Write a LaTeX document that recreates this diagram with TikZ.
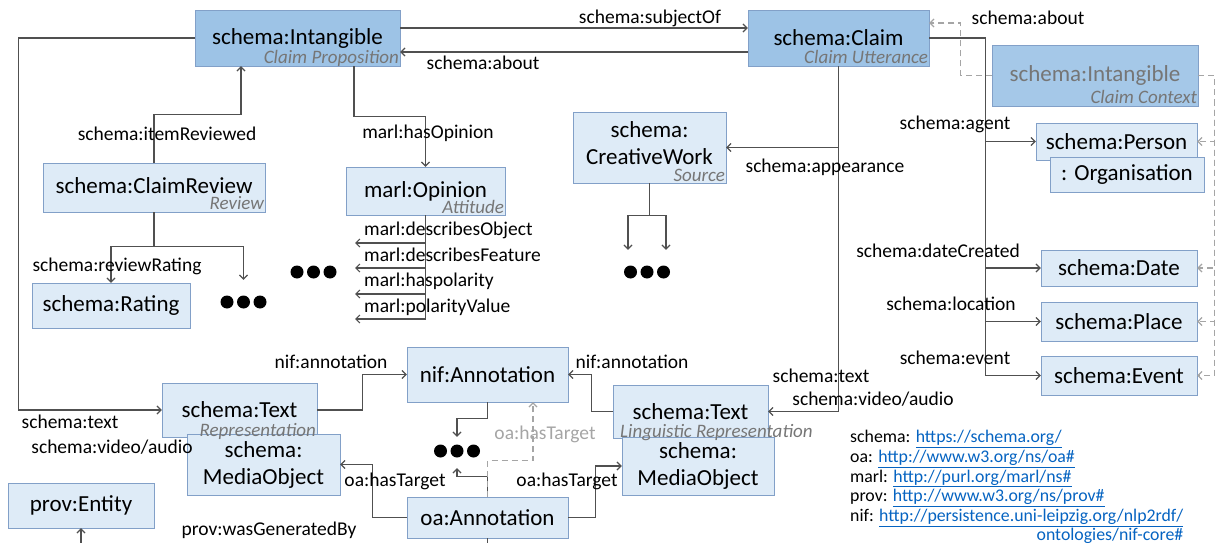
\documentclass[tikz,border=0pt]{standalone}
\usepackage{fontspec}
\setmainfont{Carlito}
\usepackage{xcolor}
\usetikzlibrary{positioning, arrows.meta}

\definecolor{darkfill}{RGB}{157,195,230}
\definecolor{lightfill}{RGB}{222,235,247}
\definecolor{boxline}{RGB}{130,160,200}
\definecolor{linegray}{RGB}{80,80,80}
\definecolor{dashgray}{RGB}{165,165,165}
\definecolor{subgray}{RGB}{118,118,118}
\definecolor{linkblue}{RGB}{5,99,193}

\newcommand{\lnk}[1]{\textcolor{linkblue}{\underline{#1}}}

\tikzset{
  boxsize/.style 2 args={minimum width=#1pt, minimum height=#2pt},
  darkbox/.style={draw=boxline, fill=darkfill, inner sep=0pt, align=center,
    font=\fontsize{23}{27}\selectfont},
  lightbox/.style={draw=boxline, fill=lightfill, inner sep=0pt, align=center,
    font=\fontsize{23}{27}\selectfont},
  subtitle/.style={inner sep=0pt, text=subgray, font=\fontsize{19}{22}\selectfont\itshape},
  lbl/.style={inner sep=0pt, font=\fontsize{19.5}{23}\selectfont},
  link/.style={draw=linegray, line width=1.2pt},
  dlink/.style={draw=dashgray, line width=1.2pt, dash pattern=on 6pt off 4pt},
  dotrow/.style={minimum width=52pt, minimum height=28pt, inner sep=0pt,
    path picture={\foreach \k in {-1,0,1}
      \fill ([xshift=\k*16.5pt]path picture bounding box.center) circle (6.5pt);}},
}

\begin{document}
\begin{tikzpicture}[x=1pt,y=-1pt,>={Straight Barb[length=4pt,width=8pt]}]
  \useasboundingbox (0,0) rectangle (1216,543);

  % boxes
  \node[darkbox, boxsize={205}{56}] (intang) at (297.5,38) {schema:Intangible};
  \node[darkbox, boxsize={181}{56}] (claim) at (838.5,38) {schema:Claim};
  \node[darkbox, boxsize={206}{61}, fill opacity=0.92, text opacity=1, text=subgray] (context) at (1095,75.5) {schema:Intangible};
  \node[lightbox, boxsize={161}{37}] (person) at (1116.5,141.5) {schema:Person};
  \node[lightbox, boxsize={154}{35}] (organ) at (1127,174.5) {: Organisation};
  \node[lightbox, boxsize={222}{49}, text depth=4pt] (review) at (154,187.5) {schema:ClaimReview};
  \node[lightbox, boxsize={159}{48}] (opinion) at (425.5,191) {marl:Opinion};
  \node[lightbox, boxsize={153}{71}, text depth=8pt] (work) at (649.5,147.5) {schema:\\CreativeWork};
  \node[lightbox, boxsize={158}{45}] (rating) at (111,305.5) {schema:Rating};
  \node[lightbox, boxsize={156}{36}] (date) at (1119,268) {schema:Date};
  \node[lightbox, boxsize={156}{39}] (place) at (1119,321.5) {schema:Place};
  \node[lightbox, boxsize={156}{39}] (event) at (1119,375.5) {schema:Event};
  \node[lightbox, boxsize={161}{55}] (nifann) at (487.5,374.5) {nif:Annotation};
  \node[lightbox, boxsize={155}{54}] (textL) at (239.5,410) {schema:Text};
  \node[lightbox, boxsize={153}{61}] (mediaL) at (263.5,464.5) {schema:\\MediaObject};
  \node[lightbox, boxsize={155}{53}] (textR) at (690.5,411.5) {schema:Text};
  \node[lightbox, boxsize={152}{58}] (mediaR) at (698,466) {schema:\\MediaObject};
  \node[lightbox, boxsize={161}{41}] (oaann) at (487.5,517.5) {oa:Annotation};
  \node[lightbox, boxsize={146}{45}] (entity) at (81,505.5) {prov:Entity};

  % subtitles
  \node[subtitle, anchor=base east] (intangsub) at ([xshift=-1pt,yshift=3pt]intang.south east) {Claim Proposition};
  \node[subtitle, anchor=base east] (claimsub) at ([xshift=-1pt,yshift=3pt]claim.south east) {Claim Utterance};
  \node[subtitle, anchor=base east] (contextsub) at ([xshift=-1pt,yshift=3pt]context.south east) {Claim Context};
  \node[subtitle, anchor=base east] (reviewsub) at ([xshift=-1pt,yshift=3pt]review.south east) {Review};
  \node[subtitle, anchor=base east] (opinionsub) at ([xshift=-1pt,yshift=2pt]opinion.south east) {Attitude};
  \node[subtitle, anchor=base east] (worksub) at ([xshift=-1pt,yshift=2pt]work.south east) {Source};
  \node[subtitle, anchor=base east] (textLsub) at ([xshift=-1pt,yshift=1pt]textL.south east) {Representation};
  \node[subtitle, anchor=base west] (textRsub) at (620,437) {Linguistic Representation};

  % dots
  \node[dotrow] (rdots) at (243.5,302) {};
  \node[dotrow] (mdots) at (313.5,272) {};
  \node[dotrow] (wdots) at (647,272) {};
  \node[dotrow] (ndots) at (457,451) {};

  % claim proposition links
  \draw[link,->] (intang.west) -- ++(-176,0) |- (textL.west);
  \draw[link,->] ([yshift=10pt]intang.east) -- ([yshift=10pt]claim.west);
  \draw[link,->] ([yshift=-14pt]claim.west) -- ([yshift=-14pt]intang.east);
  \draw[link,->] (review.north) -- ++(0,-48) -| ([xshift=-56.5pt]intang.south);
  \draw[link,->] ([xshift=56.5pt]intang.south) -- ++(0,50) -| (opinion.north);
  \draw[link,->] (review.south) -- ++(0,34) -| (rating.north);
  \draw[link,->,shorten >=8pt] (review.south) -- ++(0,34) -| (rdots.north);

  % opinion properties
  \foreach \y [count=\i] in {243,268,294,319}
    \coordinate (marl\i) at (355,\y);
  \draw[link] (opinion.south) -- (opinion.south |- marl4);
  \foreach \i in {1,...,4}
    \draw[link,->] (opinion.south |- marl\i) -- (marl\i);

  % source
  \draw[link,->,shorten >=8pt] (work.south) -- ++(0,32) -| ([xshift=-19pt]wdots.north);
  \draw[link,->,shorten >=8pt] (work.south) -- ++(0,32) -| ([xshift=19pt]wdots.north);

  % claim utterance links
  \draw[link,->] (claim.south) |- (work.east);
  \draw[link,->] (claim.south) |- (textR.east);
  \foreach \n in {person,date,place,event}
    \draw[link,->] (claim.east) -- ++(56,0) |- (\n.west);

  % claim context (dashed)
  \draw[dlink,->] (context.west) -- ++(-31,0) |- ([yshift=15pt]claim.east);
  \foreach \n in {person,date,place,event}
    \draw[dlink,->] (context.east) -- ++(16,0) |- (\n.east);

  % annotations
  \draw[link,->] (textL.east) -- ++(45,0) |- (nifann.west);
  \draw[link,->] (textR.west) -- ++(-21,0) |- (nifann.east);
  \draw[link,->] (nifann.south) -- ++(0,16) -| (ndots.north);
  \draw[link,->,shorten >=3pt] (oaann.north) -- ++(0,-20) -| (ndots.south);
  \draw[dlink,->] (oaann.north) -- ++(0,-36) -| ([xshift=45.5pt]nifann.south);
  \draw[link,->] (oaann.west) -- ++(-34,0) |- (mediaL.east);
  \draw[link,->] (oaann.east) -- ++(27,0) |- (mediaR.west);

  % provenance (cut at the bottom)
  \coordinate (oaend) at (487.5,543);
  \coordinate (provend) at (81,543);
  \draw[link] (oaann.south) -- (oaend);
  \draw[link,->] (provend) -- (entity.south);

  % labels
  \node[lbl] (lblsubject) at (650,18) {schema:subjectOf};
  \node[lbl] (lblabout) at (483,63) {schema:about};
  \node[lbl] (lblaboutctx) at (1028,18) {schema:about};
  \node[lbl] (lblitem) at (167,134) {schema:itemReviewed};
  \node[lbl] (lblopinion) at (428,133) {marl:hasOpinion};
  \node[lbl] (lblrating) at (117,266) {schema:reviewRating};
  \node[lbl] (lblappear) at (825,167) {schema:appearance};
  \node[lbl] (lblagent) at (955,124) {schema:agent};
  \node[lbl] (lbldate) at (938,251) {schema:dateCreated};
  \node[lbl] (lblplace) at (951,304) {schema:location};
  \node[lbl] (lblevent) at (955,358) {schema:event};
  \node[lbl, anchor=west] (lblobj) at (364,230) {marl:describesObject};
  \node[lbl, anchor=west] (lblfeat) at (364,255) {marl:describesFeature};
  \node[lbl, anchor=west] (lblpol) at (364,281) {marl:haspolarity};
  \node[lbl, anchor=west] (lblval) at (364,307) {marl:polarityValue};
  \node[lbl] (lbltextL) at (70,422) {schema:text};
  \node[lbl] (lblmediaL) at (112,447) {schema:video/audio};
  \node[lbl] (lbltextR) at (821,376) {schema:text};
  \node[lbl] (lblmediaR) at (873,399) {schema:video/audio};
  \node[lbl] (lblnifL) at (331,362) {nif:annotation};
  \node[lbl] (lblnifR) at (632,362) {nif:annotation};
  \node[lbl] (lbltgtL) at (395,481) {oa:hasTarget};
  \node[lbl] (lbltgtR) at (567,481) {oa:hasTarget};
  \node[lbl, text=dashgray] (lbltgtD) at (545,434) {oa:hasTarget};
  \node[lbl] (lblprov) at (269,530) {prov:wasGeneratedBy};

  % namespaces
  \node[inner sep=0pt, anchor=north west, font=\fontsize{17.8}{19.6}\selectfont] (nslegend) at (850,429) {%
    \begin{tabular}{@{}l@{}}
      schema: \lnk{https://schema.org/}\\
      oa: \lnk{http://www.w3.org/ns/oa\#}\\
      marl: \lnk{http://purl.org/marl/ns\#}\\
      prov: \lnk{http://www.w3.org/ns/prov\#}\\
      nif: \lnk{http://persistence.uni-leipzig.org/nlp2rdf/}\\
      \multicolumn{1}{@{}r@{}}{\lnk{ontologies/nif-core\#}}
    \end{tabular}};
\end{tikzpicture}
\end{document}
